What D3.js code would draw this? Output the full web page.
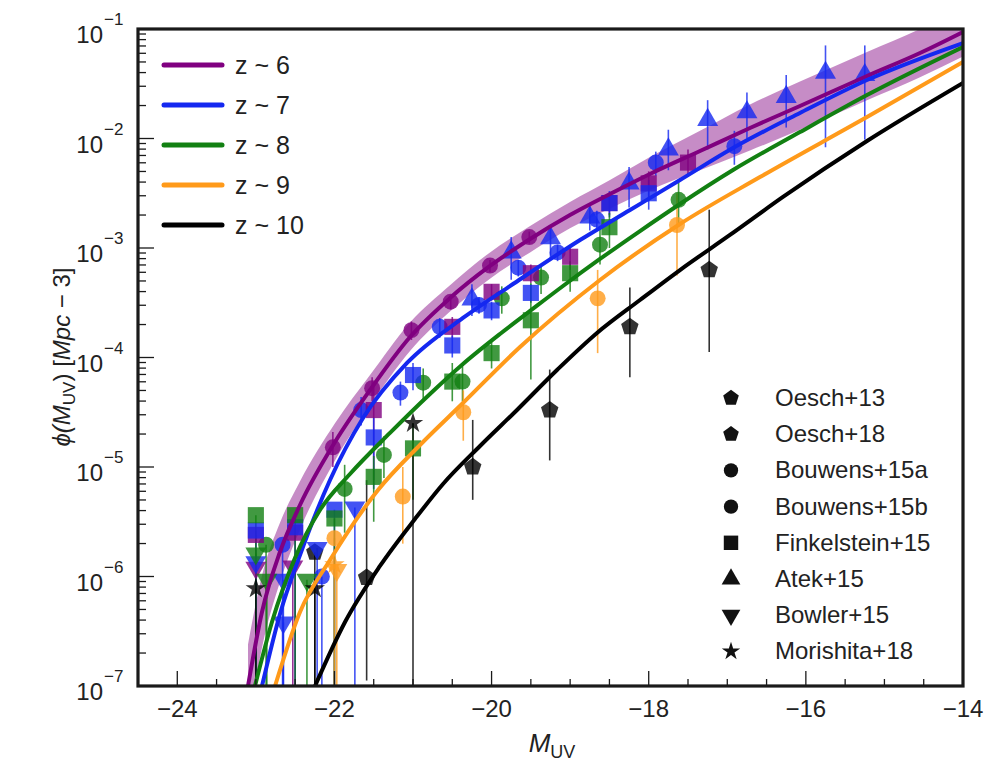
<!DOCTYPE html>
<html><head><meta charset="utf-8">
<script src="https://cdn.jsdelivr.net/npm/d3@7"></script>
<style>body{margin:0;background:#fff;} svg{font-family:"Liberation Sans",Arial,sans-serif;}</style>
</head><body><svg id="c" width="1007" height="762"></svg>
<script>
// ---------- axis definitions ----------
const xDomain = [-24.5, -14];
const yDomain = [1e-7, 1e-1];
const xTickLabels = [-24, -22, -20, -18, -16, -14];
const yTickExps = [-7, -6, -5, -4, -3, -2, -1];

// ---------- model curves (M_UV, log10 phi) ----------
const z6M   = [-23.100,-22.922,-22.693,-22.438,-21.993,-21.547,-21.038,-20.529,-20.020,-19.510,-19.002,-18.493,-17.984,-17.347,-16.711,-16.075,-15.222,-14.547,-14.000];
const z6Log = [-7.000,-6.324,-5.776,-5.347,-4.772,-4.297,-3.813,-3.457,-3.164,-2.918,-2.699,-2.507,-2.324,-2.114,-1.904,-1.703,-1.429,-1.219,-1.027];
const z6BandHi = [-6.62,-5.99,-5.51,-5.13,-4.60,-4.16,-3.68,-3.34,-3.04,-2.80,-2.58,-2.38,-2.17,-1.93,-1.69,-1.48,-1.21,-1.00,-0.81];
const z6BandLo = [-7.38,-6.65,-6.05,-5.57,-4.94,-4.44,-3.94,-3.58,-3.28,-3.04,-2.82,-2.64,-2.47,-2.29,-2.11,-1.92,-1.65,-1.44,-1.25];
const z7M   = [-22.922,-22.693,-22.438,-22.056,-21.636,-21.076,-20.364,-19.727,-18.874,-18.238,-17.602,-16.927,-16.075,-15.222,-14.000];
const z7Log = [-7.000,-6.342,-5.804,-5.119,-4.553,-4.050,-3.639,-3.329,-2.927,-2.653,-2.379,-2.087,-1.767,-1.466,-1.128];
const z8M   = [-23.011,-22.795,-22.502,-22.184,-21.802,-21.293,-20.784,-20.364,-19.893,-19.510,-19.091,-18.620,-18.111,-17.602,-16.927,-16.075,-15.222,-14.000];
const z8Log = [-7.000,-6.416,-5.831,-5.393,-5.064,-4.689,-4.333,-4.059,-3.785,-3.575,-3.347,-3.100,-2.845,-2.598,-2.288,-1.941,-1.603,-1.164];
const z9M   = [-22.756,-22.438,-22.056,-21.445,-20.911,-20.364,-19.638,-18.620,-17.602,-16.584,-15.222,-14.000];
const z9Log = [-7.000,-6.324,-5.849,-5.210,-4.799,-4.416,-3.904,-3.292,-2.781,-2.352,-1.804,-1.301];
const z10M   = [-22.247,-21.865,-21.420,-20.975,-20.618,-20.147,-19.676,-19.167,-18.658,-18.111,-17.602,-16.966,-16.291,-15.222,-14.000];
const z10Log = [-7.000,-6.416,-5.904,-5.475,-5.155,-4.808,-4.479,-4.114,-3.776,-3.475,-3.201,-2.881,-2.534,-2.023,-1.493];

const zLabels = ["z ~ 6", "z ~ 7", "z ~ 8", "z ~ 9", "z ~ 10"];
const zKeys = [6, 7, 8, 9, 10];
const zColors = ["#800080", "#1428f0", "#128012", "#ff9a1a", "#000000"];

// ---------- observational data: [z, M_UV, log phi, log lower, log upper] (lower -9 = open to bottom) ----------
const oesch13 = [
  [10, -22.25, -5.78, -9, -5.78]
];
const oesch18 = [
  [10, -21.59, -6.01, -6.95, -5.12],
  [10, -20.24, -5.00, -5.30, -4.57],
  [10, -19.26, -4.48, -4.94, -4.11],
  [10, -18.24, -3.72, -4.18, -3.36],
  [10, -17.23, -3.20, -3.95, -2.65]
];
const bouwens15a = [
  [6, -22.02, -4.82, -5.00, -4.68],
  [6, -21.52, -4.28, -4.40, -4.18],
  [6, -21.02, -3.75, -3.84, -3.67],
  [6, -20.52, -3.49, -3.56, -3.43],
  [6, -20.02, -3.16, -3.22, -3.11],
  [6, -19.52, -2.90, -2.96, -2.85],
  [7, -22.66, -5.71, -9, -5.71],
  [7, -22.16, -6.00, -9, -6.00],
  [7, -21.66, -4.48, -4.62, -4.36],
  [7, -21.16, -4.32, -4.44, -4.22],
  [7, -20.66, -3.72, -3.82, -3.64],
  [7, -20.16, -3.52, -3.60, -3.45],
  [7, -19.66, -3.18, -3.26, -3.11],
  [7, -19.16, -3.04, -3.12, -2.97],
  [7, -18.66, -2.74, -2.84, -2.66],
  [7, -17.91, -2.22, -2.34, -2.12],
  [7, -16.91, -2.07, -2.24, -1.93],
  [8, -22.87, -5.71, -9, -5.71],
  [8, -21.87, -5.20, -5.60, -4.98],
  [8, -21.37, -4.89, -5.10, -4.72],
  [8, -20.87, -4.23, -4.38, -4.10],
  [8, -20.37, -4.22, -4.40, -4.08],
  [8, -19.87, -3.46, -3.60, -3.35],
  [8, -19.37, -3.27, -3.42, -3.15],
  [8, -18.62, -2.97, -3.15, -2.82],
  [8, -17.62, -2.56, -2.80, -2.38]
];
const bouwens15b = [
  [9, -22.00, -5.65, -9, -5.65],
  [9, -21.13, -5.27, -5.70, -5.00],
  [9, -20.36, -4.50, -4.76, -4.30],
  [9, -18.65, -3.46, -3.96, -3.20],
  [9, -17.64, -2.79, -3.25, -2.50]
];
const finkelstein15 = [
  [6, -23.0, -5.62, -9, -5.62],
  [6, -22.5, -5.60, -9, -5.60],
  [6, -21.5, -4.48, -5.12, -4.27],
  [6, -20.5, -3.72, -3.82, -3.63],
  [6, -20.0, -3.40, -3.48, -3.33],
  [6, -19.5, -3.23, -3.32, -3.15],
  [6, -19.0, -3.08, -3.20, -2.98],
  [6, -18.5, -2.59, -2.70, -2.50],
  [6, -18.0, -2.41, -2.55, -2.30],
  [6, -17.5, -2.22, -2.35, -2.10],
  [7, -23.0, -5.58, -9, -5.58],
  [7, -22.5, -5.55, -9, -5.55],
  [7, -22.0, -5.39, -9, -5.39],
  [7, -21.5, -4.73, -5.20, -4.55],
  [7, -21.0, -4.16, -4.30, -4.05],
  [7, -20.5, -3.89, -4.00, -3.80],
  [7, -20.0, -3.57, -3.66, -3.49],
  [7, -19.5, -3.41, -3.50, -3.33],
  [7, -18.5, -2.59, -2.72, -2.48],
  [7, -18.0, -2.50, -2.65, -2.38],
  [8, -23.0, -5.44, -9, -5.44],
  [8, -22.5, -5.44, -9, -5.44],
  [8, -22.0, -5.47, -9, -5.47],
  [8, -21.5, -5.09, -5.50, -4.90],
  [8, -21.0, -4.83, -5.30, -4.60],
  [8, -20.5, -4.22, -4.40, -4.05],
  [8, -20.0, -3.96, -4.10, -3.85],
  [8, -19.5, -3.66, -4.20, -3.32],
  [8, -19.0, -3.23, -3.40, -3.12],
  [8, -18.5, -2.81, -3.00, -2.68]
];
const atek15 = [
  [7, -20.25, -3.47, -3.62, -3.33],
  [7, -19.75, -3.04, -3.29, -2.90],
  [7, -19.25, -2.91, -3.10, -2.80],
  [7, -18.75, -2.72, -2.84, -2.60],
  [7, -18.25, -2.41, -2.63, -2.26],
  [7, -17.75, -2.10, -2.29, -1.92],
  [7, -17.25, -1.83, -2.10, -1.65],
  [7, -16.75, -1.76, -2.00, -1.58],
  [7, -16.25, -1.62, -1.90, -1.42],
  [7, -15.75, -1.40, -2.08, -1.15],
  [7, -15.25, -1.42, -2.01, -1.15]
];
const bowler15 = [
  [6, -23.00, -5.92, -9, -5.92],
  [6, -22.53, -5.91, -9, -5.91],
  [7, -23.00, -5.87, -9, -5.87],
  [7, -22.65, -6.03, -9, -6.03],
  [7, -22.65, -6.42, -9, -6.42],
  [7, -22.22, -5.74, -9, -5.74],
  [7, -21.74, -5.37, -9, -5.37],
  [8, -23.00, -5.79, -9, -5.79],
  [8, -22.86, -6.03, -9, -6.03],
  [8, -22.35, -6.03, -9, -6.03],
  [9, -21.97, -5.94, -9, -5.94]
];
const morishita18 = [
  [10, -23.00, -6.11, -9, -6.11],
  [10, -22.25, -6.11, -9, -6.11],
  [9, -22.00, -5.89, -9, -5.89],
  [10, -21.00, -4.60, -9, -4.60]
];

const refNames = ["Oesch+13", "Oesch+18", "Bouwens+15a", "Bouwens+15b", "Finkelstein+15", "Atek+15", "Bowler+15", "Morishita+18"];
const refShapes = ["pentagon", "pentagon", "circle", "circle", "square", "triangle", "triangleDown", "star"];
const refData = [oesch13, oesch18, bouwens15a, bouwens15b, finkelstein15, atek15, bowler15, morishita18];

// ---------- drawing ----------
const svg = d3.select("#c");
const L = 138, R = 963, T = 29, B = 686;
const x = d3.scaleLinear().domain(xDomain).range([L, R]);
const y = d3.scaleLog().domain(yDomain).range([B, T]);
const colorOf = z => zColors[zKeys.indexOf(z)];
const markColor = z => { const c = d3.color(colorOf(z)); c.opacity = 0.8; return c.formatRgb(); };

svg.append("defs").append("clipPath").attr("id", "clip")
  .append("rect").attr("x", L).attr("y", T).attr("width", R - L).attr("height", B - T);
const plot = svg.append("g").attr("clip-path", "url(#clip)");

// band for z~6
const band = d3.area().x((d, i) => x(z6M[i])).y0((d, i) => y(10 ** z6BandLo[i])).y1((d, i) => y(10 ** z6BandHi[i])).curve(d3.curveMonotoneX);
plot.append("path").datum(z6M).attr("d", band).attr("fill", "#800080").attr("opacity", 0.45);

// symbols
const pentagon = { draw(ctx, size) {
  const r = Math.sqrt(size / (2.5 * Math.sin(2 * Math.PI / 5)));
  for (let i = 0; i < 5; i++) { const a = -Math.PI / 2 + i * 2 * Math.PI / 5; const px = r * Math.cos(a), py = r * Math.sin(a); i ? ctx.lineTo(px, py) : ctx.moveTo(px, py); }
  ctx.closePath(); } };
const shapeType = { pentagon: pentagon, circle: d3.symbolCircle, square: d3.symbolSquare, triangle: d3.symbolTriangle, triangleDown: d3.symbolTriangle, star: d3.symbolStar };
const shapeSize = { pentagon: 200, circle: 200, square: 260, triangle: 190, triangleDown: 190, star: 130 };

// error bars & markers
const pts = plot.append("g");
refData.forEach((arr, k) => {
  arr.forEach(d => {
    const [z, M, lp, lo, hi] = d;
    pts.append("line").attr("x1", x(M)).attr("x2", x(M))
      .attr("y1", lo < -8 ? B + 5 : y(10 ** lo)).attr("y2", y(10 ** hi))
      .attr("stroke", markColor(z)).attr("stroke-width", 1.6);
  });
});
refData.forEach((arr, k) => {
  const shape = refShapes[k];
  arr.forEach(d => {
    const [z, M, lp] = d;
    pts.append("path").attr("d", d3.symbol(shapeType[shape], shapeSize[shape])())
      .attr("transform", `translate(${x(M)},${y(10 ** lp)})` + (shape === "triangleDown" ? " rotate(180)" : ""))
      .attr("fill", markColor(z));
  });
});

// curves
const curves = [[z6M, z6Log], [z7M, z7Log], [z8M, z8Log], [z9M, z9Log], [z10M, z10Log]];
const line = d3.line().curve(d3.curveMonotoneX);
curves.forEach(([ms, ls], i) => {
  plot.append("path").attr("d", line(ms.map((m, j) => [x(m), y(10 ** ls[j])])))
    .attr("fill", "none").attr("stroke", zColors[i]).attr("stroke-width", 4).attr("stroke-linecap", "round");
});

// frame
svg.append("rect").attr("x", L).attr("y", T).attr("width", R - L).attr("height", B - T)
  .attr("fill", "none").attr("stroke", "#1a1a1a").attr("stroke-width", 3.2);

// x ticks
const xMinor = d3.range(xDomain[0] + 0.5, xDomain[1], 0.5);
svg.append("g").selectAll("line").data(xMinor).join("line")
  .attr("x1", d => x(d)).attr("x2", d => x(d)).attr("y1", B)
  .attr("y2", d => B - (xTickLabels.includes(d) ? 15 : 7)).attr("stroke", "#1a1a1a").attr("stroke-width", 1.3);
svg.append("g").selectAll("text").data(xTickLabels).join("text")
  .attr("x", d => x(d)).attr("y", 717).attr("text-anchor", "middle").attr("font-size", 24).attr("fill", "#222")
  .text(d => d < 0 ? "\u2212" + Math.abs(d) : d);

// y ticks
const yMinor = [];
yTickExps.slice(0, -1).forEach(e => { for (let m = 2; m <= 9; m++) yMinor.push(m * 10 ** e); });
svg.append("g").selectAll("line").data(yMinor).join("line")
  .attr("x1", L).attr("x2", L + 8).attr("y1", d => y(d)).attr("y2", d => y(d)).attr("stroke", "#1a1a1a").attr("stroke-width", 1.3);
svg.append("g").selectAll("line").data(yTickExps).join("line")
  .attr("x1", L).attr("x2", L + 16).attr("y1", d => y(10 ** d)).attr("y2", d => y(10 ** d)).attr("stroke", "#1a1a1a").attr("stroke-width", 1.3);
const yl = svg.append("g").selectAll("g").data(yTickExps).join("g").attr("transform", d => `translate(0,${y(10 ** d)})`);
yl.append("text").attr("x", 103).attr("y", 14).attr("text-anchor", "end").attr("font-size", 24).attr("fill", "#222").text("10");
yl.append("text").attr("x", 104).attr("y", -4).attr("font-size", 17).attr("fill", "#222").text(d => "\u2212" + Math.abs(d));

// axis titles
const xt = svg.append("text").attr("x", 552).attr("y", 752).attr("text-anchor", "middle").attr("font-size", 26).attr("fill", "#222");
xt.append("tspan").attr("font-style", "italic").text("M");
xt.append("tspan").attr("font-size", 18).attr("dy", 6).text("UV");
const yt = svg.append("text").attr("transform", "translate(70,357) rotate(-90)").attr("text-anchor", "middle").attr("font-size", 24).attr("fill", "#222");
yt.append("tspan").attr("font-style", "italic").text("\u03d5(");
yt.append("tspan").attr("font-style", "italic").text("M");
yt.append("tspan").attr("font-size", 17).attr("dy", 5).text("UV");
yt.append("tspan").attr("dy", -5).text(") [");
yt.append("tspan").attr("font-style", "italic").text("Mpc");
yt.append("tspan").text(" \u2212 3]");

// z legend
const zl = svg.append("g").selectAll("g").data(zLabels).join("g").attr("transform", (d, i) => `translate(0,${65 + i * 40})`);
zl.append("line").attr("x1", 164).attr("x2", 222).attr("stroke", (d, i) => zColors[i]).attr("stroke-width", 5).attr("stroke-linecap", "round");
zl.append("text").attr("x", 235).attr("y", 9).attr("font-size", 25).attr("fill", "#222").text(d => d);

// reference legend
const rl = svg.append("g").selectAll("g").data(refNames).join("g").attr("transform", (d, i) => `translate(0,${398 + i * 36.2})`);
rl.append("path").attr("d", (d, i) => d3.symbol(shapeType[refShapes[i]], shapeSize[refShapes[i]] * 0.8)())
  .attr("transform", (d, i) => `translate(731,0)` + (refShapes[i] === "triangleDown" ? " rotate(180)" : "")).attr("fill", "#111");
rl.append("text").attr("x", 775).attr("y", 8).attr("font-size", 24).attr("fill", "#222").text(d => d);
</script></body></html>
